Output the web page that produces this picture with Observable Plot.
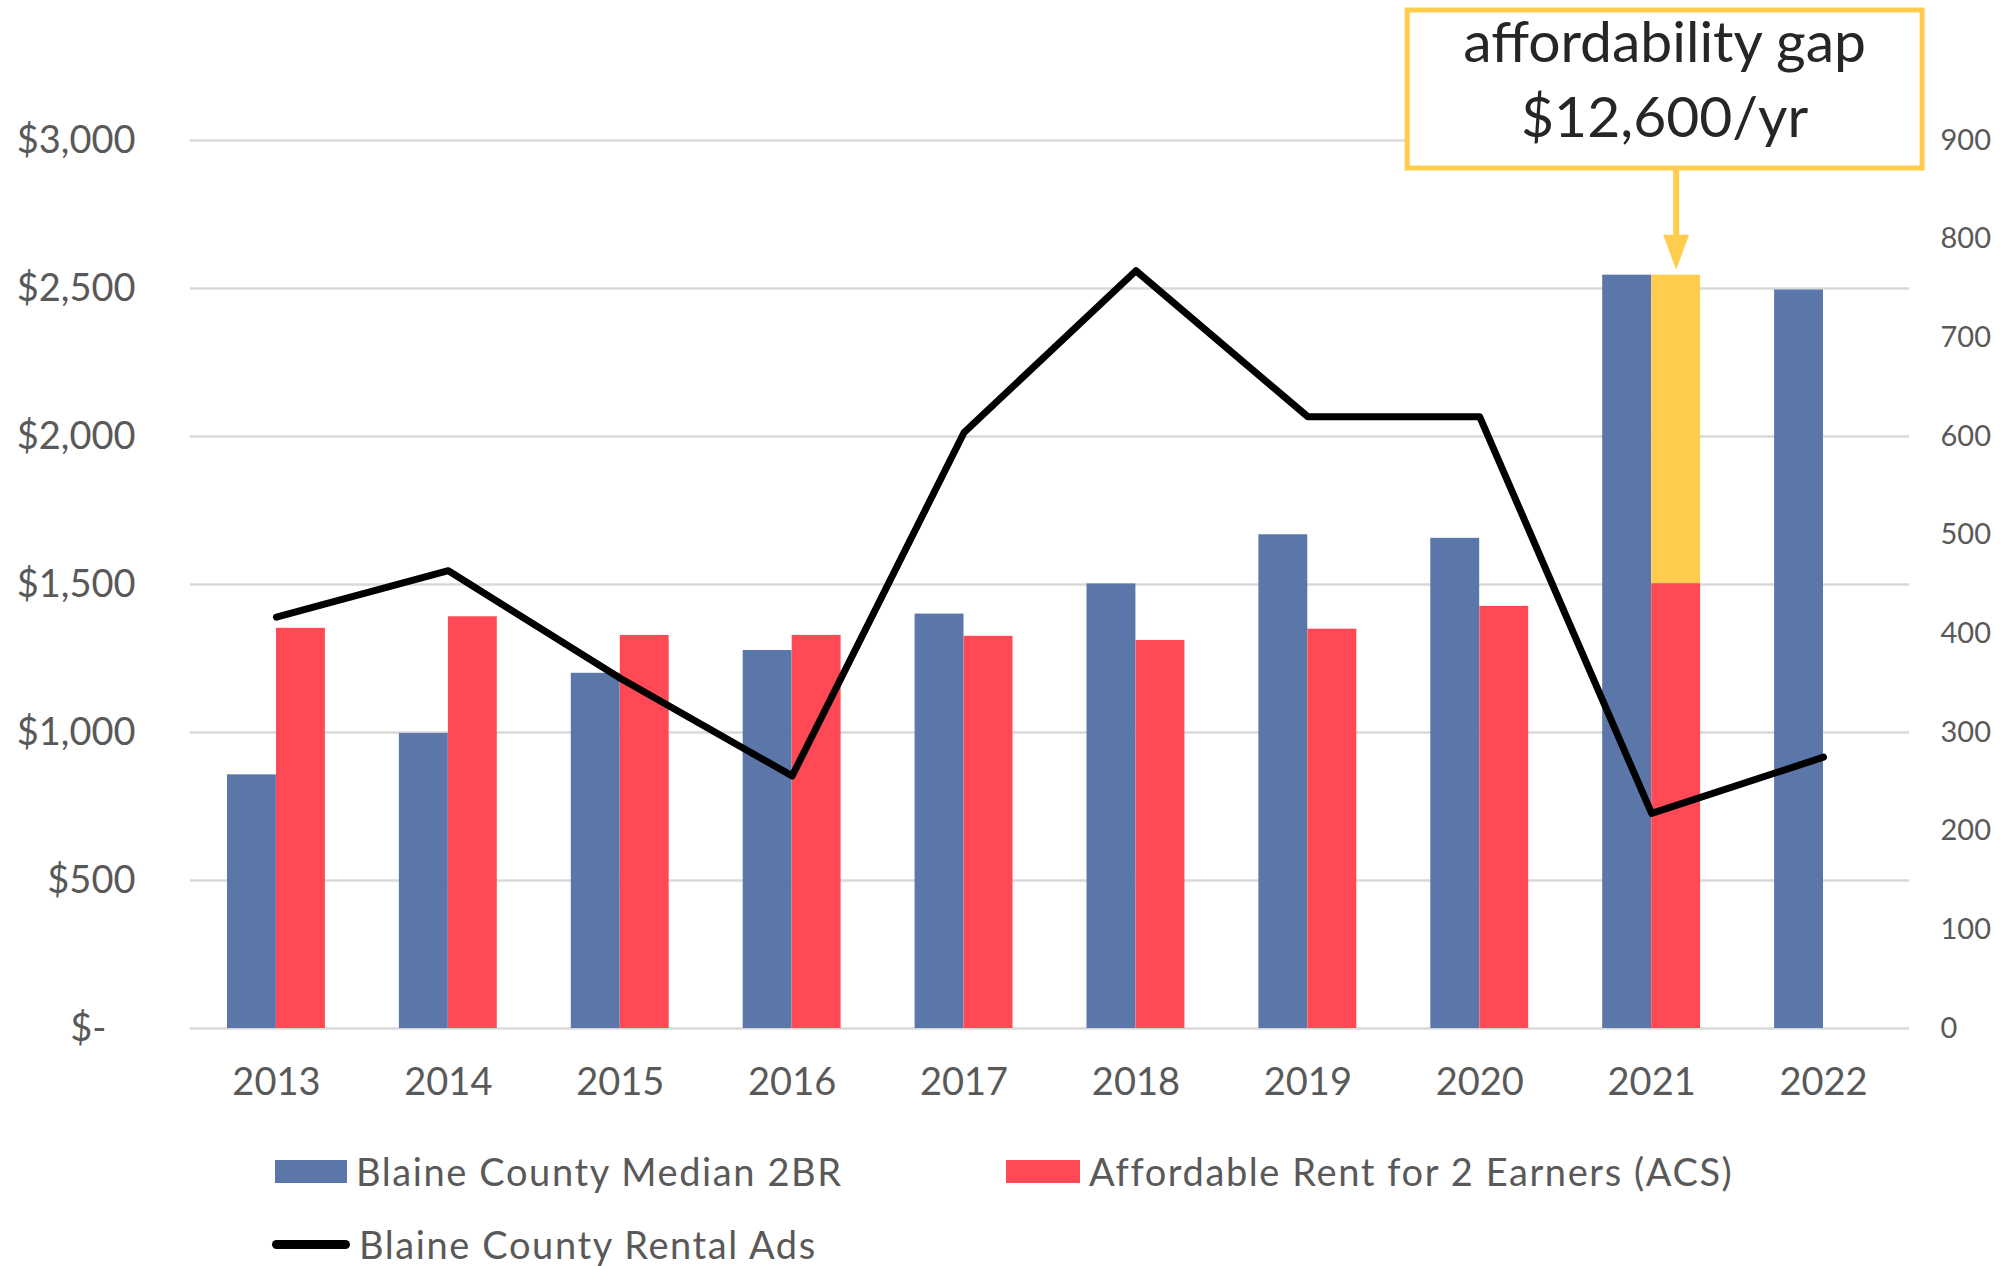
<!DOCTYPE html>
<html>
<head>
<meta charset="utf-8">
<script src="https://cdn.jsdelivr.net/npm/d3@7"></script>
<script src="https://cdn.jsdelivr.net/npm/@observablehq/plot@0.6"></script>
<style>
  html, body { margin: 0; padding: 0; background: #ffffff; }
  body { width: 2009px; height: 1266px; overflow: hidden; font-family: Lato, "Open Sans", sans-serif; }
  #chart svg { display: block; overflow: visible; }
  #legend { position: relative; width: 2009px; height: 151px; color: #595959; font-size: 38px; letter-spacing: 1.6px; }
  .item { position: absolute; display: flex; align-items: center; white-space: nowrap; }
  .sw { display: inline-block; margin-right: 9px; }
</style>
</head>
<body>
<div id="chart"></div>
<div id="legend"></div>
<script>
// ---- data ----
const years = ["2013", "2014", "2015", "2016", "2017", "2018", "2019", "2020", "2021", "2022"];
const medianRent = [857, 997, 1200, 1277, 1400, 1502, 1668, 1656, 2545, 2495];
const affordableRent = [1352, 1391, 1328, 1328, 1325, 1311, 1349, 1426, 1503, null];
const rentalAds = [417, 464, 355, 256, 604, 768, 620, 620, 218, 275];
const gapYears = ["2021"];
const leftTicks = [0, 500, 1000, 1500, 2000, 2500, 3000];
const rightTicks = [0, 100, 200, 300, 400, 500, 600, 700, 800, 900];
const seriesNames = ["Blaine County Median 2BR", "Affordable Rent for 2 Earners (ACS)", "Blaine County Rental Ads"];
const annotationLines = ["affordability gap", "$12,600/yr"];

// ---- styling ----
const BLUE = "#5B77AA", RED = "#FF4A55", GOLD = "#FFCC4D", GRID = "#d9d9d9", TXT = "#595959";
const ratio = 3000 / 900; // secondary axis (ads) mapped onto $ scale

const medianData = years.map((year, i) => ({year, value: medianRent[i]}));
const affordData = years.map((year, i) => ({year, value: affordableRent[i]})).filter(d => d.value != null);
const adsData = years.map((year, i) => ({year, value: rentalAds[i]}));
const gapData = gapYears.map(year => {
  const i = years.indexOf(year);
  return {year, y1: affordableRent[i], y2: medianRent[i]};
});

const chart = Plot.plot({
  width: 2009,
  height: 1115,
  marginLeft: 190,
  marginRight: 100,
  marginTop: 140,
  marginBottom: 87,
  style: {fontFamily: "Lato, 'Open Sans', sans-serif", background: "#ffffff", overflow: "visible"},
  x: {type: "band", domain: years, padding: 0, round: false, label: null},
  y: {domain: [0, 3000], label: null},
  marks: [
    Plot.ruleY(leftTicks, {stroke: GRID, strokeWidth: 2.5}),
    Plot.barY(medianData, {x: "year", y: "value", fill: BLUE, insetLeft: 37, insetRight: 86}),
    Plot.barY(affordData, {x: "year", y: "value", fill: RED, insetLeft: 86, insetRight: 37}),
    Plot.barY(gapData, {x: "year", y1: "y1", y2: "y2", fill: GOLD, insetLeft: 86, insetRight: 37}),
    Plot.line(adsData, {x: "year", y: d => d.value * ratio, stroke: "#000000", strokeWidth: 7,
      strokeLinejoin: "round", strokeLinecap: "round"}),
    Plot.axisX({tickSize: 0, tickPadding: 40, fontSize: 38, color: TXT, label: null}),
    Plot.axisY(leftTicks, {anchor: "left", tickSize: 0, tickPadding: 55, fontSize: 38, color: TXT, label: null,
      tickFormat: d => d === 0 ? "$-\u00a0\u00a0\u00a0" : "$" + d3.format(",")(d)}),
    Plot.axisY(rightTicks.map(v => v * ratio), {anchor: "right", tickSize: 0, tickPadding: 31, fontSize: 29,
      color: TXT, label: null, tickFormat: d => String(Math.round(d / ratio))})
  ]
});
document.getElementById("chart").appendChild(chart);

// ---- annotation box and arrow, positioned from the scales ----
const xs = chart.scale("x"), ys = chart.scale("y");
const svg = d3.select(chart);
const gi = years.indexOf(gapYears[0]);
const cx = xs.apply(gapYears[0]) + xs.bandwidth / 2;
const arrowX = cx + 25;
const yTopLine = ys.apply(3000);
const boxTop = yTopLine - 130, boxBottom = yTopLine + 28;
const boxLeft = cx - 244, boxRight = cx + 271;
const tipY = ys.apply(medianRent[gi]) - 5;
const g = svg.append("g");
g.append("line").attr("x1", arrowX).attr("x2", arrowX).attr("y1", boxBottom).attr("y2", tipY - 30)
  .attr("stroke", GOLD).attr("stroke-width", 6);
g.append("path").attr("d", `M${arrowX - 13},${tipY - 35}L${arrowX + 13},${tipY - 35}L${arrowX},${tipY}Z`).attr("fill", GOLD);
g.append("rect").attr("x", boxLeft).attr("y", boxTop).attr("width", boxRight - boxLeft).attr("height", boxBottom - boxTop)
  .attr("fill", "#ffffff").attr("stroke", GOLD).attr("stroke-width", 5);
const midX = (boxLeft + boxRight) / 2;
g.append("text").attr("x", midX).attr("y", boxTop + 52).attr("text-anchor", "middle")
  .attr("font-size", 57).attr("fill", "#262626").text(annotationLines[0]);
g.append("text").attr("x", midX).attr("y", boxTop + 127).attr("text-anchor", "middle")
  .attr("font-size", 57).attr("fill", "#262626").text(annotationLines[1]);

// ---- legend (HTML, below the svg) ----
const legend = d3.select("#legend");
const items = [
  {name: seriesNames[0], left: 275, top: 56, sw: {w: 72, h: 23, bg: BLUE, r: 0}},
  {name: seriesNames[1], left: 1006, top: 56, sw: {w: 74, h: 23, bg: RED, r: 0}},
  {name: seriesNames[2], left: 272, top: 129, sw: {w: 78, h: 9, bg: "#000000", r: 5}}
];
for (const it of items) {
  const d = legend.append("div").attr("class", "item")
    .style("left", it.left + "px").style("top", (it.top - 25) + "px").style("height", "50px");
  d.append("span").attr("class", "sw")
    .style("width", it.sw.w + "px").style("height", it.sw.h + "px")
    .style("background", it.sw.bg).style("border-radius", it.sw.r + "px");
  d.append("span").text(it.name);
}
</script>
</body>
</html>
